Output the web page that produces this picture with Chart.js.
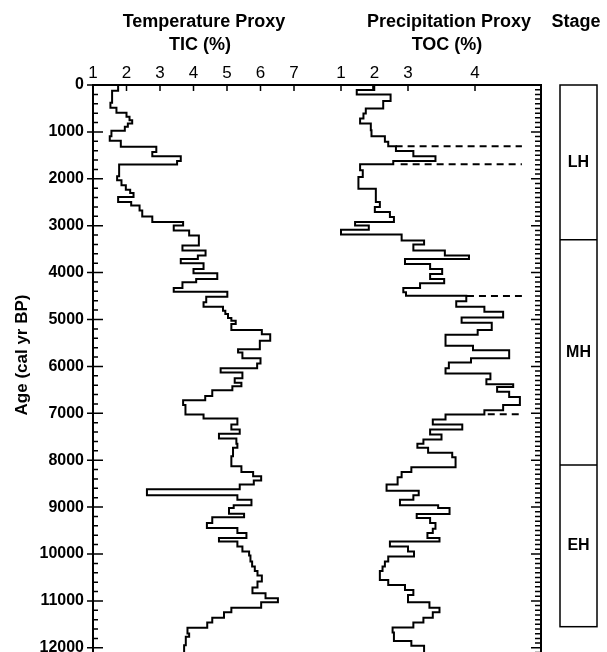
<!DOCTYPE html>
<html><head><meta charset="utf-8">
<script src="https://cdn.jsdelivr.net/npm/chart.js@4/dist/chart.umd.min.js"></script>
<style>html,body{margin:0;padding:0;background:#fff;overflow:hidden}#wrap{width:607px;height:652px;position:relative}</style>
</head><body><div id="wrap"><canvas id="c" width="607" height="652"></canvas></div>
<script>
// ---- data ----
const ticAges = [0,121,378,485,592,677,749,820,891,977,1091,1191,1319,1426,1519,1619,1697,1946,2032,2139,2232,2303,2389,2496,2567,2674,2802,2923,2995,3102,3209,3422,3529,3636,3708,3800,3922,4014,4135,4207,4328,4406,4513,4634,4727,4813,4884,4970,5027,5098,5226,5312,5454,5633,5704,5825,5939,6039,6132,6253,6346,6424,6510,6631,6724,6823,7023,7109,7237,7344,7437,7536,7650,7736,7914,8128,8249,8342,8435,8520,8620,8748,8841,8962,9019,9141,9219,9340,9447,9554,9661,9732,9839,9946,10032,10160,10267,10360,10460,10588,10716,10838,10945,11031,11144,11244,11358,11458,11573,11694,11765,11944];
const ticValues = [1.75,1.57,1.52,1.70,2.00,2.09,2.17,2.04,1.95,1.55,1.50,1.83,2.89,2.77,3.62,3.51,1.78,1.72,1.85,1.98,2.11,2.21,1.75,2.14,2.39,2.47,2.77,3.69,3.41,3.87,4.16,3.67,4.36,4.13,3.62,4.30,4.00,4.71,4.08,3.67,3.41,5.01,4.38,4.30,4.88,4.95,5.03,5.13,5.26,5.13,6.04,6.29,5.98,5.33,5.46,6.00,5.90,4.81,5.46,5.23,5.43,5.16,4.56,4.35,3.69,3.76,4.30,5.31,5.13,5.38,4.76,5.28,5.31,5.18,5.13,5.43,5.78,6.02,5.80,5.38,2.61,5.31,5.73,5.20,5.06,5.51,4.56,4.40,5.31,5.58,4.76,5.31,5.46,5.66,5.70,5.75,5.83,5.91,6.04,5.91,5.76,6.15,6.52,6.02,5.13,4.91,4.56,4.41,3.82,3.87,3.77,3.72];
const tocAges = [0,107,200,342,499,606,713,820,963,1091,1212,1305,1405,1519,1619,1690,1818,1961,2210,2496,2602,2709,2816,2923,2995,3087,3187,3316,3401,3529,3636,3708,3815,3922,4028,4135,4228,4328,4421,4492,4613,4727,4834,4955,5070,5226,5326,5561,5654,5825,5918,6039,6153,6274,6381,6438,6538,6652,6823,6937,7023,7130,7237,7344,7451,7558,7650,7736,7843,7936,8150,8249,8364,8520,8649,8748,8841,8962,9019,9148,9233,9340,9461,9554,9661,9732,9839,9946,10053,10160,10267,10360,10552,10659,10766,10873,11030,11144,11244,11358,11458,11565,11672,11857,11957];
const tocValues = [1.96,1.47,2.48,2.26,1.74,1.67,1.57,1.89,1.91,2.31,2.41,2.64,3.08,3.41,2.56,1.57,1.65,1.52,2.04,2.16,2.01,2.46,2.58,1.42,1.83,1.00,2.81,3.24,3.08,3.55,3.91,2.91,3.33,3.51,3.33,3.54,3.18,2.86,2.94,3.87,3.72,4.14,4.42,3.80,4.25,4.04,3.56,3.97,4.51,3.94,3.61,3.56,4.23,4.17,4.57,4.33,4.51,4.67,4.42,4.14,3.56,3.37,3.81,3.33,3.50,3.23,3.14,3.30,3.66,3.71,3.05,2.81,2.69,2.36,3.16,3.08,2.76,3.45,3.62,3.13,3.33,3.41,3.37,3.29,3.47,2.46,3.00,3.09,2.41,2.31,2.24,2.16,2.41,2.91,3.08,3.00,3.32,3.47,3.37,3.23,3.08,2.54,2.58,3.05,3.24];
const seriesEndAge = 12130;
const ticTickValues = [1,2,3,4,5,6,7];
const tocTickValues = [1,2,3,4];
const ageTickValues = [0,1000,2000,3000,4000,5000,6000,7000,8000,9000,10000,11000,12000];
const stageBounds = [0,3300,8100,11550];
const stageNames = ['LH','MH','EH'];
const boundaryAges = [1305,1690,4500,7020];
const boundaryStarts = [2.63,2.78,3.88,4.19];
const boundaryEnd = 4.70;

// ---- axis mapping: TOC panel shares the horizontal scale, offset to the right ----
const TOC_OFFSET = 7.403;
function tocToX(r){ return TOC_OFFSET + (r <= 3 ? r : 3 + 2*(r-3)); }

const FONT = '"Liberation Sans", Arial, Helvetica, sans-serif';
const xTicks = ticTickValues.map(v=>({value:v,label:String(v)}))
  .concat(tocTickValues.map(v=>({value:tocToX(v),label:String(v)})));

function stepData(ages, vals, f){
  const d = ages.map((a,i)=>({x:f(vals[i]), y:a}));
  d.push({x:f(vals[vals.length-1]), y:seriesEndAge});
  return d;
}

const datasets = [
  {data: stepData(ticAges, ticValues, v=>v)},
  {data: stepData(tocAges, tocValues, tocToX)}
].map(d=>Object.assign(d,{showLine:true,stepped:'after',borderColor:'#000',borderWidth:2,pointRadius:0,fill:false}));
boundaryAges.forEach((a,i)=>{
  datasets.push({data:[{x:tocToX(boundaryStarts[i]),y:a},{x:tocToX(boundaryEnd),y:a}],
    showLine:true,borderColor:'#000',borderWidth:2,borderDash:[7,5],pointRadius:0,fill:false});
});

const framePlugin = {
  id:'frame',
  afterDatasetsDraw(chart){
    const ctx = chart.ctx, a = chart.chartArea, ys = chart.scales.y, xs = chart.scales.x;
    ctx.save();
    ctx.strokeStyle = '#000'; ctx.fillStyle = '#000';
    ctx.lineWidth = 2;
    ctx.beginPath();
    ctx.moveTo(a.left, a.bottom+2); ctx.lineTo(a.left, a.top); ctx.lineTo(a.right, a.top); ctx.lineTo(a.right, a.bottom+2);
    ctx.stroke();
    ctx.lineWidth = 1.5;
    ctx.beginPath();
    for(let v=0; v<=12200; v+=200){
      const y = ys.getPixelForValue(v);
      if(v%1000===0){ ctx.moveTo(a.left-6,y); ctx.lineTo(a.left+10,y); }
      else { ctx.moveTo(a.left,y); ctx.lineTo(a.left+5,y); }
    }
    for(let v=0; v<=12200; v+=100){
      const y = ys.getPixelForValue(v);
      if(v%1000===0){ ctx.moveTo(a.right,y); ctx.lineTo(a.right-10,y); }
      else { ctx.moveTo(a.right,y); ctx.lineTo(a.right-6,y); }
    }
    xTicks.forEach(t=>{ const x = xs.getPixelForValue(t.value); ctx.moveTo(x,a.top); ctx.lineTo(x,a.top+6); });
    ctx.stroke();

    // titles
    ctx.font = 'bold 18px '+FONT;
    ctx.textAlign = 'center'; ctx.textBaseline = 'middle';
    ctx.fillText('Temperature Proxy', 204, 22);
    ctx.fillText('TIC (%)', 200, 45);
    ctx.fillText('Precipitation Proxy', 449, 22);
    ctx.fillText('TOC (%)', 447, 45);
    ctx.fillText('Stage', 576, 22);
    ctx.save();
    ctx.font = 'bold 17px '+FONT;
    ctx.translate(22, 355); ctx.rotate(-Math.PI/2);
    ctx.fillText('Age (cal yr BP)', 0, 0);
    ctx.restore();

    // stage column
    const bx0 = 560, bx1 = 597;
    ctx.lineWidth = 1.5;
    ctx.strokeRect(bx0, ys.getPixelForValue(stageBounds[0]), bx1-bx0, ys.getPixelForValue(stageBounds[stageBounds.length-1]) - ys.getPixelForValue(stageBounds[0]));
    ctx.beginPath();
    for(let i=1;i<stageBounds.length-1;i++){ const y = ys.getPixelForValue(stageBounds[i]); ctx.moveTo(bx0,y); ctx.lineTo(bx1,y); }
    ctx.stroke();
    ctx.font = 'bold 16px '+FONT;
    stageNames.forEach((n,i)=>{
      const y = ys.getPixelForValue((stageBounds[i]+stageBounds[i+1])/2);
      ctx.fillText(n, (bx0+bx1)/2, y);
    });
    ctx.restore();
  }
};

new Chart(document.getElementById('c'), {
  type:'scatter',
  data:{datasets},
  plugins:[framePlugin],
  options:{
    responsive:false, animation:false, devicePixelRatio:1,
    layout:{padding:{left:0,right:66,top:0,bottom:0}},
    plugins:{legend:{display:false},tooltip:{enabled:false}},
    scales:{
      x:{type:'linear',position:'top',min:1,max:1+448/33.5,
        grid:{display:false,drawTicks:false},border:{display:false},
        ticks:{color:'#000',font:{family:FONT,size:17},padding:1,autoSkip:false,maxRotation:0,
          callback:(v)=>{const t=xTicks.find(t=>Math.abs(t.value-v)<1e-6);return t?t.label:'';}},
        afterBuildTicks:(s)=>{s.ticks = xTicks.map(t=>({value:t.value}));},
        afterFit:(s)=>{s.height=85;s.paddingLeft=0;s.paddingRight=0;}
      },
      y:{type:'linear',reverse:true,min:0,max:(652-85)/0.0469,
        grid:{display:false,drawTicks:false},border:{display:false},
        ticks:{color:'#000',font:{family:FONT,size:16,weight:'bold'},padding:9,autoSkip:false,
          callback:(v)=>String(v)},
        afterBuildTicks:(s)=>{s.ticks = ageTickValues.map(v=>({value:v}));},
        afterFit:(s)=>{s.width=93;s.paddingTop=0;s.paddingBottom=0;}
      }
    }
  }
});
</script></body></html>
